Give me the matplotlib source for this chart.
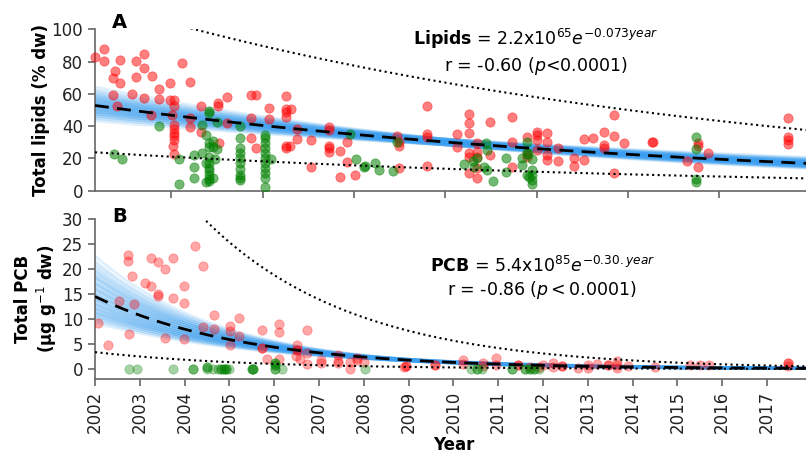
import numpy as np
import matplotlib
matplotlib.use("Agg")
import matplotlib.pyplot as plt

# lipids, panel A
lip_red_year = [
    2002.33, 2002.53, 2002.53, 2002.77, 2002.73, 2002.88, 2002.88, 2002.73, 2002.82,
    2003.23, 2003.23, 2003.40, 2003.40, 2003.57, 2003.15, 2003.40, 2003.56, 2003.74,
    2003.74, 2003.98, 2003.98, 2004.05, 2004.05, 2004.01, 2004.05, 2004.05, 2004.05,
    2004.05, 2004.05, 2004.03, 2004.05, 2004.24, 2004.40, 2004.40, 2004.40, 2004.65,
    2004.65, 2005.03, 2005.03, 2005.05, 2005.23, 2005.23, 2005.74, 2005.86, 2005.74,
    2005.74, 2005.86, 2006.13, 2006.13, 2006.51, 2006.51, 2006.51, 2006.51, 2006.62,
    2006.51, 2006.60, 2006.51, 2006.75, 2006.75, 2007.05, 2007.05, 2007.45, 2007.45,
    2007.45, 2007.45, 2007.45, 2007.70, 2007.70, 2007.85, 2007.85, 2008.02, 2008.95,
    2008.98, 2008.98, 2008.98, 2009.61, 2009.61, 2009.61, 2009.61, 2010.26, 2010.26,
    2010.51, 2010.51, 2010.51, 2010.51, 2010.51, 2010.51, 2010.70, 2010.70, 2010.70,
    2010.70, 2010.70, 2010.97, 2010.97, 2011.46, 2011.46, 2011.46, 2011.78, 2011.78,
    2011.78, 2012.00, 2012.00, 2012.00, 2012.00, 2012.23, 2012.23, 2012.23, 2012.23,
    2012.46, 2012.46, 2012.81, 2012.81, 2013.03, 2013.03, 2013.23, 2013.47, 2013.47,
    2013.47, 2013.69, 2013.69, 2013.69, 2013.92, 2014.53, 2014.55, 2015.30, 2015.54,
    2015.54, 2015.54, 2015.75, 2017.51, 2017.51, 2017.51, 2017.51,
]
lip_red_val = [
    83.0, 87.8, 80.5, 74.2, 69.6, 81.0, 66.9, 59.3, 52.3,
    80.4, 70.3, 84.7, 76.2, 71.3, 59.7, 57.3, 46.9, 62.8,
    56.8, 66.8, 56.2, 56.2, 52.2, 46.9, 40.5, 38.2, 36.0,
    33.8, 31.5, 27.6, 22.6, 79.3, 67.2, 45.1, 39.5, 52.2,
    36.1, 54.6, 52.5, 29.4, 57.9, 41.8, 59.0, 59.2, 45.0,
    32.5, 26.3, 51.4, 44.6, 58.7, 50.8, 48.6, 45.9, 50.6,
    27.9, 27.9, 26.6, 38.0, 32.2, 31.2, 14.8, 39.2, 37.6,
    27.6, 26.6, 23.8, 24.7, 8.2, 30.0, 17.5, 9.7, 34.0,
    30.0, 27.9, 14.0, 52.3, 35.1, 33.5, 15.5, 35.0, 26.9,
    47.5, 41.8, 36.0, 23.2, 21.1, 10.8, 29.4, 24.2, 21.1,
    13.9, 8.1, 42.4, 22.1, 45.9, 30.4, 14.9, 33.5, 22.6,
    21.1, 36.6, 34.5, 31.6, 25.2, 35.6, 30.4, 22.1, 19.0,
    26.3, 18.4, 20.4, 15.3, 32.0, 19.0, 32.4, 36.2, 28.3,
    26.3, 46.9, 34.1, 11.2, 29.4, 30.4, 30.4, 18.4, 29.4,
    27.7, 14.9, 23.2, 45.2, 33.5, 31.4, 28.7,
]
lip_green_year = [
    2002.75, 2002.92, 2003.74, 2004.18, 2004.18, 2004.50, 2004.50, 2004.50, 2004.67,
    2004.67, 2004.75, 2004.75, 2004.75, 2004.83, 2004.83, 2004.83, 2004.83, 2004.83,
    2004.83, 2004.83, 2004.83, 2004.83, 2004.83, 2004.83, 2004.92, 2004.92, 2005.00,
    2005.00, 2004.92, 2004.95, 2005.50, 2005.50, 2005.50, 2005.50, 2005.50, 2005.50,
    2005.50, 2005.50, 2005.50, 2005.50, 2006.05, 2006.05, 2006.05, 2006.05, 2006.05,
    2006.05, 2006.05, 2006.05, 2006.05, 2006.05, 2006.05, 2006.18, 2007.92, 2008.05,
    2008.23, 2008.25, 2008.47, 2008.54, 2008.86, 2008.95, 2010.42, 2010.60, 2010.70,
    2010.62, 2010.90, 2010.92, 2010.85, 2010.92, 2011.05, 2011.34, 2011.34, 2011.68,
    2011.68, 2011.78, 2011.78, 2011.82, 2011.78, 2011.83, 2011.91, 2011.91, 2011.91,
    2011.91, 2011.91, 2015.49, 2015.49, 2015.49, 2015.49,
]
lip_green_val = [
    22.7, 19.4, 40.1, 19.4, 4.2, 22.1, 14.9, 7.7, 23.6,
    40.5, 34.5, 17.0, 5.6, 49.6, 48.3, 29.4, 27.3, 20.8,
    17.0, 14.0, 12.0, 10.0, 7.5, 6.0, 30.8, 27.3, 42.8,
    26.0, 7.9, 19.9, 40.1, 32.5, 26.3, 23.2, 20.0, 17.0,
    13.3, 10.0, 7.7, 6.6, 34.7, 32.5, 29.4, 26.3, 23.2,
    20.0, 17.0, 14.0, 10.9, 7.7, 2.5, 19.8, 35.2, 19.8,
    14.9, 15.3, 17.4, 13.0, 12.2, 30.0, 16.4, 18.4, 20.4,
    14.9, 29.4, 25.2, 14.4, 12.9, 6.2, 20.4, 11.8, 20.0,
    15.9, 30.4, 24.0, 23.0, 9.7, 8.7, 19.6, 12.8, 9.7,
    6.6, 4.1, 33.5, 25.8, 7.2, 5.2,
]

# PCB, panel B
pcb_red_year = [
    2002.07, 2002.28, 2002.53, 2002.73, 2002.73, 2002.77, 2002.82, 2002.88, 2003.12,
    2003.24, 2003.24, 2003.40, 2003.40, 2003.40, 2003.56, 2003.56, 2003.73, 2003.73,
    2003.99, 2003.99, 2003.99, 2004.23, 2004.40, 2004.40, 2004.65, 2004.65, 2005.01,
    2005.01, 2005.01, 2005.21, 2005.21, 2005.73, 2005.73, 2005.73, 2005.84, 2006.11,
    2006.11, 2006.11, 2006.50, 2006.50, 2006.50, 2006.48, 2006.58, 2006.74, 2006.74,
    2006.74, 2007.04, 2007.04, 2007.43, 2007.43, 2007.43, 2007.69, 2007.69, 2007.84,
    2007.84, 2008.01, 2008.90, 2008.94, 2008.94, 2009.60, 2009.60, 2010.22, 2010.22,
    2010.65, 2010.65, 2010.95, 2010.95, 2011.45, 2011.45, 2011.70, 2011.90, 2012.00,
    2012.22, 2012.22, 2012.43, 2012.43, 2012.79, 2013.01, 2013.01, 2013.20, 2013.46,
    2013.46, 2013.66, 2013.66, 2013.66, 2013.90, 2014.49, 2015.27, 2015.50, 2015.71,
    2017.47, 2017.47, 2017.47,
]
pcb_red_val = [
    9.3, 4.8, 13.7, 22.9, 21.7, 7.1, 18.7, 13.1, 17.3,
    22.3, 16.7, 21.5, 15.1, 14.7, 20.1, 6.3, 22.2, 14.3,
    16.6, 13.3, 6.1, 24.6, 20.7, 8.5, 10.9, 8.1, 8.6,
    7.6, 4.9, 10.3, 6.6, 7.9, 4.3, 4.3, 2.1, 9.1,
    7.4, 2.1, 4.8, 3.8, 3.8, 2.6, 2.0, 7.8, 3.3,
    1.0, 1.8, 1.3, 2.9, 1.6, 1.2, 1.5, 0.1, 2.3,
    1.8, 1.5, 0.5, 0.6, 0.6, 0.8, 0.8, 1.8, 1.0,
    1.3, 0.6, 2.3, 0.8, 0.9, 0.9, 0.5, 0.5, 0.8,
    1.3, 0.4, 0.6, 0.6, 0.3, 0.8, 0.3, 1.1, 0.8,
    0.8, 1.7, 0.8, 0.2, 0.6, 0.5, 0.8, 0.8, 0.8,
    1.3, 1.3, 0.6,
]
pcb_green_year = [
    2002.76, 2002.93, 2003.74, 2004.18, 2004.18, 2004.49, 2004.49, 2004.49, 2004.64,
    2004.75, 2004.82, 2004.82, 2004.87, 2004.87, 2004.93, 2004.93, 2005.00, 2005.50,
    2005.50, 2005.52, 2005.52, 2006.02, 2006.02, 2006.02, 2006.02, 2006.02, 2006.02,
    2006.17, 2008.03, 2010.39, 2010.52, 2010.52, 2010.63, 2011.31, 2011.31, 2011.60,
    2011.60, 2011.70, 2011.70, 2011.79, 2011.79, 2011.90,
]
pcb_green_val = [
    0.0, 0.0, 0.0, 0.0, 0.0, 0.5, 0.5, 0.0, 0.0,
    0.0, 0.0, 0.0, 0.0, 0.0, 0.0, 0.0, 0.0, 0.0,
    0.0, 0.0, 0.0, 1.3, 1.3, 0.8, 0.8, 0.0, 0.0,
    0.0, 0.0, 0.0, 0.0, 0.0, 0.0, 0.0, 0.0, 0.0,
    0.0, 0.0, 0.0, 0.0, 0.0, 0.0,
]

# exponential fits (value at 2002, decay rate), interval factor, bootstrap draws
lip_fit_2002, lip_rate, lip_pi = 54.1, 0.073, 2.22
lip_pivot = 2010.0
lip_boot_rates = [0.055, 0.060, 0.064, 0.067, 0.070, 0.073, 0.076, 0.079, 0.082, 0.086, 0.091]
lip_boot_scale = [0.94, 0.97, 1.0, 1.03, 1.06]

pcb_fit_2002, pcb_rate, pcb_pi = 14.5, 0.30, 4.3
pcb_pivot = 2009.0
pcb_boot_rates = [0.25, 0.26, 0.27, 0.28, 0.29, 0.30, 0.31, 0.32, 0.33, 0.34, 0.35]
pcb_boot_scale = [0.90, 0.95, 1.0, 1.05, 1.10]

spine_col = "#666666"
red_col = "red"
green_col = "green"
band_col = "#3a9ff0"

plt.rcParams["font.family"] = "DejaVu Sans"
fig = plt.figure(figsize=(8.06, 4.53), dpi=100)
ax1 = fig.add_axes([95 / 806, 1 - 190.7 / 453, 711 / 806, 161.4 / 453])
ax2 = fig.add_axes([95 / 806, 1 - 379 / 453, 711 / 806, 160 / 453])


def draw_fit(ax, xlim, a2002, rate, pi, pivot, rates, scales):
    t = np.linspace(xlim[0], xlim[1], 300)
    fit = a2002 * np.exp(-rate * (t - 2002))
    a_piv = a2002 * np.exp(-rate * (pivot - 2002))
    for r in rates:
        for s in scales:
            ax.plot(t, s * a_piv * np.exp(-r * (t - pivot)), color=band_col,
                    lw=2, alpha=0.16, zorder=2)
    ax.plot(t, fit, color="black", ls=(0, (5, 3)), lw=2, zorder=4)
    ax.plot(t, fit * pi, color="black", ls=":", lw=1.5, zorder=4)
    ax.plot(t, fit / pi, color="black", ls=":", lw=1.5, zorder=4)


def style(ax):
    for s in ["top", "right"]:
        ax.spines[s].set_visible(False)
    for s in ["left", "bottom"]:
        ax.spines[s].set_color(spine_col)
        ax.spines[s].set_linewidth(1.2)
    ax.tick_params(colors=spine_col, labelcolor="#222222", labelsize=12,
                   length=5, width=1.2)


xlim1 = (2002.33, 2017.9)
xlim2 = (2002.0, 2017.87)

draw_fit(ax1, xlim1, lip_fit_2002, lip_rate, lip_pi, lip_pivot, lip_boot_rates, lip_boot_scale)
ax1.scatter(lip_red_year, lip_red_val, s=45, color=red_col, alpha=0.5, lw=0.5, zorder=3, clip_on=False)
ax1.scatter(lip_green_year, lip_green_val, s=45, color=green_col, alpha=0.55, lw=0.5, zorder=3)
ax1.set_xlim(*xlim1)
ax1.set_ylim(0, 100)
ax1.set_xticks(range(2004, 2017, 2))
ax1.set_xticklabels([])
ax1.set_yticks(range(0, 101, 20))
style(ax1)
ax1.set_ylabel("Total lipids (% dw)", fontsize=12, fontweight="bold")
ax1.yaxis.set_label_coords(-0.063, 0.5)
ax1.text(0.62, 0.86,
         "$\\mathbf{Lipids}$ = 2.2x10$^{65}$$e^{-0.073 year}$\nr = -0.60 ($p$<0.0001)",
         transform=ax1.transAxes, ha="center", va="center", fontsize=12.5)

draw_fit(ax2, xlim2, pcb_fit_2002, pcb_rate, pcb_pi, pcb_pivot, pcb_boot_rates, pcb_boot_scale)
ax2.scatter(pcb_red_year, pcb_red_val, s=45, color=red_col, alpha=0.35, lw=0.5, zorder=3)
ax2.scatter(pcb_green_year, pcb_green_val, s=45, color=green_col, alpha=0.35, lw=0.5, zorder=3)
ax2.set_xlim(*xlim2)
ax2.set_ylim(-2, 30)
ax2.set_xticks(range(2002, 2018))
ax2.set_xticklabels([str(y) for y in range(2002, 2018)], rotation=90)
ax2.set_yticks(range(0, 31, 5))
style(ax2)
ax2.set_ylabel("Total PCB\n(μg g$^{-1}$ dw)", fontsize=12, fontweight="bold")
ax2.yaxis.set_label_coords(-0.05, 0.5)
ax2.set_xlabel("Year", fontsize=12, fontweight="bold")
ax2.xaxis.set_label_coords(0.505, -0.355)
ax2.text(0.629, 0.63,
         "$\\mathbf{PCB}$ = 5.4x10$^{85}$$e^{-0.30.year}$\nr = -0.86 ($p < 0.0001$)",
         transform=ax2.transAxes, ha="center", va="center", fontsize=12.5)

fig.text(119 / 806, 1 - 23 / 453, "A", fontsize=14, fontweight="bold", ha="center", va="center")
fig.text(120 / 806, 1 - 217 / 453, "B", fontsize=14, fontweight="bold", ha="center", va="center")

fig.savefig("out.png", dpi=100)
